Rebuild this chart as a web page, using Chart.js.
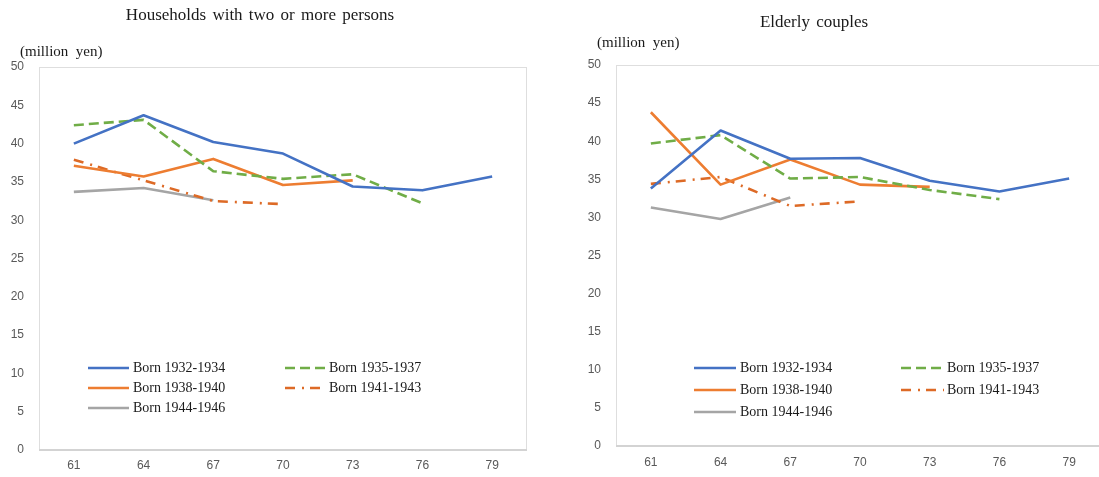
<!DOCTYPE html>
<html>
<head>
<meta charset="utf-8">
<script src="https://cdn.jsdelivr.net/npm/chart.js@4.4.0/dist/chart.umd.min.js"></script>
<style>
  html, body { margin: 0; padding: 0; background: #fff; width: 1099px; height: 477px; overflow: hidden; }
  body { position: relative; }
  .box { position: absolute; top: 0; }
  canvas { display: block; }
  .title { position: absolute; font-family: "Liberation Serif", "Times New Roman", serif; font-size: 17px; color: #1a1a1a;
           white-space: nowrap; transform: translate(-50%, -50%); word-spacing: 2px; }
  .unit { position: absolute; font-family: "Liberation Serif", "Times New Roman", serif; font-size: 15px; color: #1a1a1a;
          white-space: pre; transform: translateY(-50%); }
  .leg { position: absolute; font-family: "Liberation Serif", "Times New Roman", serif; font-size: 14px; color: #1a1a1a;
         white-space: nowrap; transform: translateY(-50%); line-height: 16px; }
  .legline { position: absolute; transform: translateY(-50%); }
</style>
</head>
<body>
<div class="box" id="boxA" style="left:0px;width:549px;height:477px"><canvas id="chartA" width="549" height="477"></canvas></div>
<div class="box" id="boxB" style="left:550px;width:560px;height:477px"><canvas id="chartB" width="560" height="477"></canvas></div>

<div class="title" style="left:260px;top:15px">Households with two or more persons</div>
<div class="title" style="left:814px;top:22px">Elderly couples</div>
<div class="unit" style="left:20px;top:51px">(million  yen)</div>
<div class="unit" style="left:597px;top:42px">(million  yen)</div>

<script>
// Age of household head (x axis)
const ages = ['61', '64', '67', '70', '73', '76', '79'];
const seriesNames = ['Born 1932-1934', 'Born 1935-1937', 'Born 1938-1940', 'Born 1941-1943', 'Born 1944-1946'];

// Households with two or more persons (million yen)
const hh1932 = [40.0, 43.7, 40.2, 38.7, 34.4, 33.9, 35.7];
const hh1935 = [42.4, 43.1, 36.4, 35.4, 36.0, 32.2];
const hh1938 = [37.1, 35.7, 38.0, 34.6, 35.2];
const hh1941 = [37.9, 35.2, 32.5, 32.1];
const hh1944 = [33.7, 34.2, 32.6];

// Elderly couples (million yen)
const ec1932 = [33.8, 41.4, 37.7, 37.8, 34.8, 33.4, 35.1];
const ec1935 = [39.7, 40.8, 35.1, 35.3, 33.6, 32.4];
const ec1938 = [43.8, 34.3, 37.6, 34.3, 34.0];
const ec1941 = [34.4, 35.3, 31.5, 32.1];
const ec1944 = [31.3, 29.8, 32.6];

// Value axis
const yMin = 0, yMax = 50, yStep = 5;

// Line styles per cohort
const styles = [
  { color: '#4472C4', dash: [] },
  { color: '#70AD47', dash: [10, 5] },
  { color: '#ED7D31', dash: [] },
  { color: '#DD6A26', dash: [10, 7, 2, 6] },
  { color: '#A5A5A5', dash: [] }
];

function buildDatasets(seriesList) {
  return seriesList.map((vals, i) => ({
    label: seriesNames[i],
    data: vals,
    borderColor: styles[i].color,
    backgroundColor: styles[i].color,
    borderDash: styles[i].dash,
    borderWidth: 2.6,
    borderCapStyle: 'butt',
    borderJoinStyle: 'round',
    pointRadius: 0,
    pointHoverRadius: 0,
    tension: 0,
    fill: false
  }));
}

// Light frame around the plot area
const frame = {
  id: 'frame',
  beforeDatasetsDraw(chart) {
    const a = chart.chartArea, c = chart.ctx;
    c.save();
    c.strokeStyle = '#dedede';
    c.lineWidth = 1;
    c.strokeRect(a.left + 0.5, a.top + 0.5, a.right - a.left - 1, a.bottom - a.top);
    c.strokeStyle = '#d3d3d3';
    c.lineWidth = 2;
    c.beginPath();
    c.moveTo(a.left, a.bottom);
    c.lineTo(a.right, a.bottom);
    c.stroke();
    c.restore();
  }
};

function makeChart(id, seriesList, area) {
  const canvas = document.getElementById(id);
  const W = canvas.width, H = canvas.height;
  const tickFont = { family: '"Liberation Sans", Arial, sans-serif', size: 12 };
  return new Chart(canvas.getContext('2d'), {
    type: 'line',
    data: { labels: ages, datasets: buildDatasets(seriesList) },
    options: {
      responsive: false,
      animation: false,
      devicePixelRatio: 1,
      layout: { padding: { left: 0, top: area.top, right: W - area.right, bottom: 0 } },
      plugins: { legend: { display: false }, title: { display: false }, tooltip: { enabled: false } },
      scales: {
        x: {
          offset: true,
          grid: { display: false, drawTicks: false },
          border: { display: false },
          ticks: { color: '#595959', font: tickFont, padding: area.xPad, maxRotation: 0 },
          afterFit(s) { s.height = H - area.bottom; }
        },
        y: {
          min: yMin, max: yMax,
          grid: { display: false, drawTicks: false },
          border: { display: false },
          ticks: { stepSize: yStep, color: '#595959', font: tickFont, padding: 15 },
          afterFit(s) { s.width = area.left; }
        }
      }
    },
    plugins: [frame]
  });
}

makeChart('chartA', [hh1932, hh1935, hh1938, hh1941, hh1944], { left: 39, right: 527, top: 67, bottom: 450, xPad: 8 });
makeChart('chartB', [ec1932, ec1935, ec1938, ec1941, ec1944], { left: 66, right: 554, top: 65, bottom: 446, xPad: 9 });

// Legends placed inside each plot, two columns
function buildLegend(layout) {
  seriesNames.forEach((name, i) => {
    const col = layout.cols[i % 2];
    const y = layout.rows[Math.floor(i / 2)];
    const st = styles[i];
    const svgNS = 'http://www.w3.org/2000/svg';
    const svg = document.createElementNS(svgNS, 'svg');
    svg.setAttribute('width', col.lineW);
    svg.setAttribute('height', 6);
    svg.setAttribute('class', 'legline');
    svg.style.left = col.lineX + 'px';
    svg.style.top = y + 'px';
    const ln = document.createElementNS(svgNS, 'line');
    ln.setAttribute('x1', 0); ln.setAttribute('y1', 3);
    ln.setAttribute('x2', col.lineW); ln.setAttribute('y2', 3);
    ln.setAttribute('stroke', st.color);
    ln.setAttribute('stroke-width', 2.6);
    if (st.dash.length) ln.setAttribute('stroke-dasharray', st.dash.join(' '));
    svg.appendChild(ln);
    document.body.appendChild(svg);
    const t = document.createElement('div');
    t.className = 'leg';
    t.style.left = col.textX + 'px';
    t.style.top = y + 'px';
    t.textContent = name;
    document.body.appendChild(t);
  });
}

buildLegend({ rows: [368, 388, 408], cols: [{ lineX: 88, lineW: 41, textX: 133 }, { lineX: 285, lineW: 40, textX: 329 }] });
buildLegend({ rows: [368, 390, 412], cols: [{ lineX: 694, lineW: 42, textX: 740 }, { lineX: 901, lineW: 43, textX: 947 }] });
</script>
</body>
</html>
